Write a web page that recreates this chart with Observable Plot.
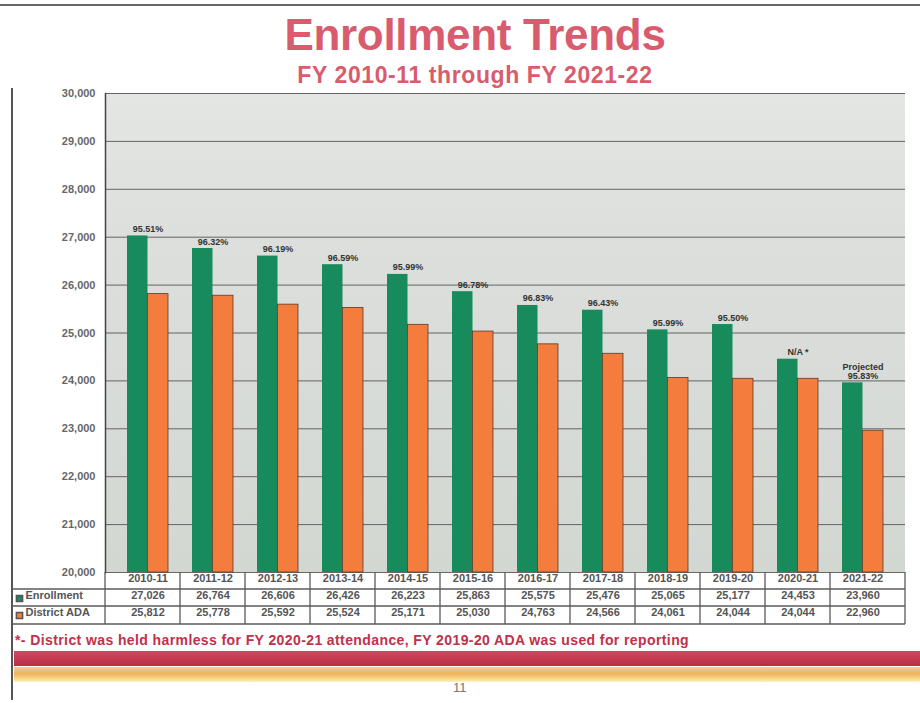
<!DOCTYPE html>
<html><head><meta charset="utf-8">
<script src="https://cdn.jsdelivr.net/npm/d3@7"></script>
<script src="https://cdn.jsdelivr.net/npm/@observablehq/plot@0.6"></script>
<style>
body{margin:0;width:920px;height:703px;background:#fff;font-family:"Liberation Sans",Arial,sans-serif;position:relative;overflow:hidden}
#title{height:85px;text-align:center;color:#d85c6d;padding-left:30px;box-sizing:border-box}
#t1{font-size:44px;font-weight:bold;line-height:40px;padding-top:15px;letter-spacing:-0.3px}
#t2{font-size:23px;font-weight:bold;line-height:24px;margin-top:8px;letter-spacing:0.6px}
#chart{position:absolute;top:85px;left:0}
#foot{position:absolute;top:632px;left:15px;color:#c2304a;font-weight:bold;font-size:14px;letter-spacing:0.4px;white-space:nowrap}
#band1{position:absolute;top:651px;left:14px;width:906px;height:15px;background:linear-gradient(#cf4a60,#b92c46)}
#band2{position:absolute;top:667px;left:14px;width:906px;height:15px;background:linear-gradient(#f4c9a8,#efb35a 45%,#f6dc8a 80%,#fbf0c8)}
#pg{position:absolute;top:680px;left:453px;font-size:13px;color:#777}
#lb{position:absolute;left:11px;top:88px;width:2px;height:612px;background:#555}
#tb{position:absolute;left:0;top:4px;width:920px;height:2px;background:#666}
</style></head>
<body>
<div id="tb"></div>
<div id="title"><div id="t1">Enrollment Trends</div><div id="t2">FY 2010-11 through FY 2021-22</div></div>
<div id="chart"></div>
<div id="lb"></div>
<div id="foot">*- District was held harmless for FY 2020-21 attendance, FY 2019-20 ADA was used for reporting</div>
<div id="band1"></div>
<div id="band2"></div>
<div id="pg">11</div>
<script>
const years = ["2010-11","2011-12","2012-13","2013-14","2014-15","2015-16","2016-17","2017-18","2018-19","2019-20","2020-21","2021-22"];
const enrollment = [27026, 26764, 26606, 26426, 26223, 25863, 25575, 25476, 25065, 25177, 24453, 23960];
const ada = [25812, 25778, 25592, 25524, 25171, 25030, 24763, 24566, 24061, 24044, 24044, 22960];
const pctLabels = ["95.51%","96.32%","96.19%","96.59%","95.99%","96.78%","96.83%","96.43%","95.99%","95.50%","N/A *","Projected\n95.83%"];
const yTicks = [20000,21000,22000,23000,24000,25000,26000,27000,28000,29000,30000];
const seriesNames = ["Enrollment","District ADA"];
const colors = ["#178b5b","#f47c3c"];

const fmt = d3.format(",");
const tableFont = {fontSize: 11, fontWeight: "bold", fill: "#555"};

function background(index, scales, values, dims) {
  const g = d3.create("svg:g");
  const grad = g.append("defs").append("linearGradient").attr("id","bgGrad").attr("x1",0).attr("x2",0).attr("y1",0).attr("y2",1);
  grad.append("stop").attr("offset","0").attr("stop-color","#e4e6e4");
  grad.append("stop").attr("offset","0.3").attr("stop-color","#dcdfdc");
  grad.append("stop").attr("offset","1").attr("stop-color","#d3d7d2");
  g.append("rect").attr("x", dims.marginLeft).attr("y", dims.marginTop)
    .attr("width", dims.width - dims.marginLeft - dims.marginRight)
    .attr("height", dims.height - dims.marginTop - dims.marginBottom)
    .attr("fill","url(#bgGrad)");
  return g.node();
}

function tableGrid(index, scales, values, dims) {
  const x = scales.x;
  const step = x.step(), bw = x.bandwidth();
  const top = dims.height - dims.marginBottom;
  const right = dims.width - dims.marginRight;
  const g = d3.create("svg:g").attr("stroke","#5a5a5a").attr("stroke-width",1.3);
  const seps = [dims.marginLeft].concat(years.slice(0,-1).map(y => x(y) + bw + (step - bw)/2)).concat([right]);
  for (const s of seps) g.append("line").attr("x1",s).attr("x2",s).attr("y1",top).attr("y2",top+52);
  for (const h of [17, 34, 52]) g.append("line").attr("x1",12).attr("x2",right).attr("y1",top+h).attr("y2",top+h);
  g.append("line").attr("x1",12).attr("x2",12).attr("y1",top+17).attr("y2",top+52);
  return g.node();
}

const data = years.flatMap((y,i)=>[
  {year:y, series:seriesNames[0], value:enrollment[i]},
  {year:y, series:seriesNames[1], value:ada[i]}
]);

const chart = Plot.plot({
  width: 920, height: 543,
  marginTop: 8, marginBottom: 56, marginLeft: 105, marginRight: 15,
  style: {fontFamily: "Liberation Sans, Arial, sans-serif", background: "transparent", overflow: "visible"},
  x: {domain: years, paddingInner: 0.376, paddingOuter: 0.28, axis: null},
  y: {domain: [20000, 30000], label: null},
  marks: [
    background,
    Plot.gridY(yTicks, {stroke: "#4f4f4f", strokeOpacity: 0.85, strokeWidth: 1}),
    Plot.frame({anchor: "left", stroke: "#444", strokeWidth: 1.5}),
    Plot.axisY(yTicks, {tickFormat: fmt, tickSize: 0, tickPadding: 10, fontSize: 11, fontWeight: "bold", fill: "#666", label: null}),
    Plot.barY(data.filter(d => d.series === seriesNames[0]), {x: "year", y1: 20000, y2: "value", fill: colors[0], insetRight: 20.5}),
    Plot.barY(data.filter(d => d.series === seriesNames[1]), {x: "year", y1: 20000, y2: "value", fill: colors[1], insetLeft: 20.5, stroke: "#5a3a28", strokeWidth: 0.8}),
    Plot.text(pctLabels, {x: years, y: enrollment, text: d => d, dy: -4, lineAnchor: "bottom", fontSize: 9, fontWeight: "bold", fill: "#333"}),
    tableGrid,
    Plot.text(years, {x: d => d, frameAnchor: "bottom", dy: 9, text: d => d, ...tableFont}),
    Plot.text(enrollment, {x: years, frameAnchor: "bottom", dy: 26, text: d => fmt(d), ...tableFont}),
    Plot.text(ada, {x: years, frameAnchor: "bottom", dy: 43, text: d => fmt(d), ...tableFont}),
    Plot.dot([seriesNames[0]], {frameAnchor: "bottom-left", dx: -86, dy: 26, symbol: "square", r: 3.5, fill: colors[0], stroke: "#555"}),
    Plot.dot([seriesNames[1]], {frameAnchor: "bottom-left", dx: -86, dy: 43, symbol: "square", r: 3.5, fill: colors[1], stroke: "#555"}),
    Plot.text([seriesNames[0]], {frameAnchor: "bottom-left", dx: -80, dy: 26, text: d => d, textAnchor: "start", ...tableFont}),
    Plot.text([seriesNames[1]], {frameAnchor: "bottom-left", dx: -80, dy: 43, text: d => d, textAnchor: "start", ...tableFont})
  ]
});
document.getElementById("chart").append(chart);
</script>
</body></html>
